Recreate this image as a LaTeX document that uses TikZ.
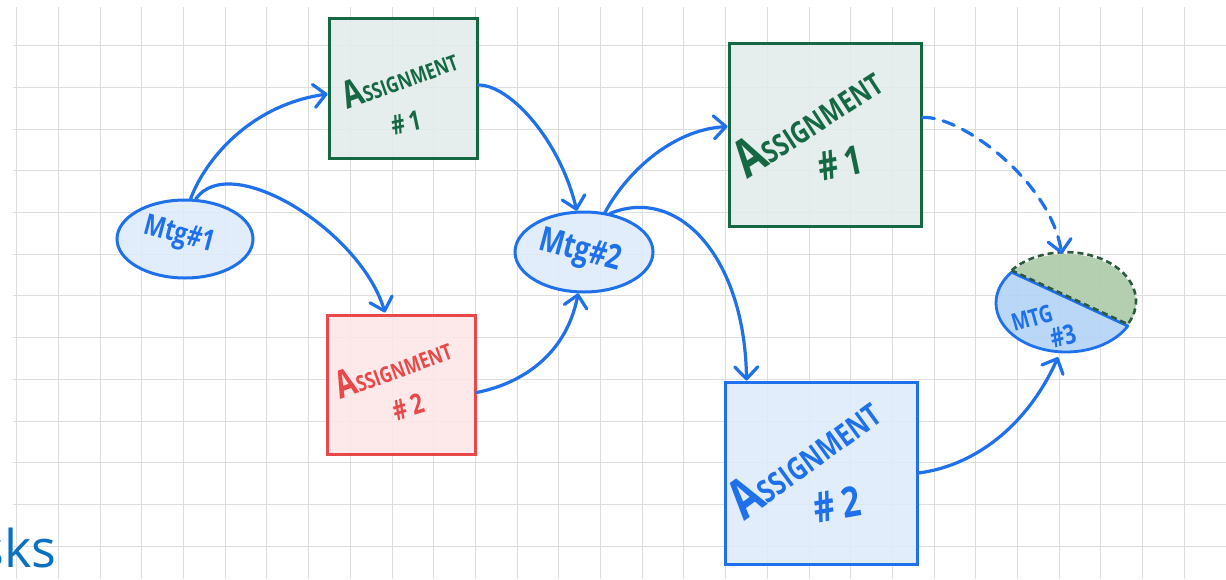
\documentclass[tikz,border=0pt]{standalone}
\usepackage{fontspec}
\usepackage{graphicx}
\usetikzlibrary{arrows.meta,shapes.geometric,calc}
\newfontfamily\hand[FakeStretch=0.78]{Open Sans}
\newfontfamily\uifont{Open Sans}
\definecolor{pen}{HTML}{1E70EB}
\definecolor{penfill}{HTML}{DEEBFC}
\definecolor{grn}{HTML}{166844}
\definecolor{grnfill}{HTML}{E3ECEB}
\definecolor{rd}{HTML}{E84848}
\definecolor{rdfill}{HTML}{FDE7E7}
\definecolor{sage}{HTML}{B0CCAC}
\definecolor{sagedark}{HTML}{2B5A3C}
\definecolor{mtgblue}{HTML}{B4D3F7}
\definecolor{gridc}{HTML}{DEDEDE}
\definecolor{titlec}{HTML}{0A70C2}
\newcommand\asgword[1]{\resizebox{#1}{!}{\hand\bfseries\fontsize{40}{40}\selectfont A\fontsize{23}{23}\selectfont SSIGNMENT}}
\begin{document}
\begin{tikzpicture}[x=1pt,y=-1pt,
  gridline/.style={draw=gridc, line width=1pt},
  box/.style={rectangle, line width=3pt, fill opacity=0.88, inner sep=0},
  mtg/.style={ellipse, draw=pen, fill=penfill, line width=3pt, fill opacity=0.88, inner sep=0},
  link/.style={draw=pen, line width=3.2pt, line cap=round, line join=round,
    -{Straight Barb[length=12pt,width=23pt,round]}},
  handtxt/.style={inner sep=0, font=\hand\bfseries},
]
\useasboundingbox (0,0) rectangle (1226,579);
\fill[white] (0,0) rectangle (1226,579);
% grid
\foreach \i in {0,...,29} \draw[gridline] ({16.7+41.7*\i},7) -- ({16.7+41.7*\i},579);
\foreach \j in {0,...,12} \draw[gridline] (13,{45.7+41.7*\j}) -- (1226,{45.7+41.7*\j});

% nodes
\node[mtg, minimum width=136pt, minimum height=78pt] (m1) at (185,239) {};
\node[box, draw=grn, fill=grnfill, minimum width=148pt, minimum height=140pt] (a1) at (403,88) {};
\node[box, draw=rd, fill=rdfill, minimum width=148pt, minimum height=139pt] (a2) at (401,384.5) {};
\node[mtg, minimum width=138pt, minimum height=80pt] (m2) at (584,252) {};
\node[box, draw=grn, fill=grnfill, minimum width=192pt, minimum height=183pt] (b1) at (825,134.5) {};
\node[box, draw=pen, fill=penfill, minimum width=192pt, minimum height=182pt] (b2) at (821,473) {};
\node[ellipse, minimum width=140pt, minimum height=98pt, inner sep=0] (m3) at (1066,303) {};

% meeting 3 split shape
\begin{scope}[shift={(m3.center)}, y=1pt]
  \fill[mtgblue, fill opacity=0.9] (141:70 and 49) arc[start angle=141, end angle=332, x radius=70, y radius=49] -- cycle;
  \fill[sage, fill opacity=0.95] (141:70 and 49) arc[start angle=141, end angle=-28, x radius=70, y radius=49] -- cycle;
  \draw[pen, line width=2.8pt, line join=round] (141:70 and 49) arc[start angle=141, end angle=332, x radius=70, y radius=49] -- cycle;
  \draw[sagedark, line width=2.6pt, dash pattern=on 6pt off 4pt] ([yshift=1.8pt]141:70 and 49) arc[start angle=141, end angle=-28, x radius=70, y radius=49] -- cycle;
\end{scope}

% texts
\node[handtxt, text=pen, rotate=-15] (t1) at (179,236) {\resizebox{72pt}{!}{Mtg\#1}};
\node[handtxt, text=pen, rotate=-15] (t2) at (580,252) {\resizebox{84pt}{!}{Mtg\#2}};
\node[handtxt, text=pen, rotate=16, font=\hand\bfseries\fontsize{24}{24}\selectfont] (t3a) at (1032,318) {MTG};
\node[handtxt, text=pen, rotate=16, font=\hand\bfseries\fontsize{27}{27}\selectfont] (t3b) at (1063,336) {\#3};

\node[handtxt, text=grn, rotate=20, anchor=base west] (ta1) at (347,110) {\asgword{120pt}};
\node[handtxt, text=grn, rotate=12, font=\hand\bfseries\fontsize{27}{27}\selectfont] (na1) at (406,123) {\#\,1};
\node[handtxt, text=rd, rotate=20, anchor=base west] (ta2) at (340,400) {\asgword{121pt}};
\node[handtxt, text=rd, rotate=18, font=\hand\bfseries\fontsize{28}{28}\selectfont] (na2) at (408,407) {\#\,2};
\node[handtxt, text=grn, rotate=33, anchor=base west] (tb1) at (747,180) {\asgword{165pt}};
\node[handtxt, text=grn, rotate=12, font=\hand\bfseries\fontsize{40}{40}\selectfont] (nb1) at (840,163) {\#\,1};
\node[handtxt, text=pen, rotate=36, anchor=base west] (tb2) at (744,522) {\asgword{173pt}};
\node[handtxt, text=pen, rotate=10, font=\hand\bfseries\fontsize{42}{42}\selectfont] (nb2) at (837,504) {\#\,2};

\node[anchor=base east, inner sep=0, text=titlec, font=\uifont\fontsize{52}{52}\selectfont] (title) at (57,567) {sks};

% connectors
\draw[link] (m1.82) .. controls (205,160) and (250,105) .. ($(a1.west)+(0,6)$);
\draw[link] (m1.75) .. controls (230,150) and (360,230) .. ($(a2.north)+(-16,-1)$);
\draw[link] ($(a1.east)+(0,-3)$) .. controls (510,85) and (560,140) .. (m2.100);
\draw[link] ($(a2.east)+(0,8)$) .. controls (515,385) and (565,360) .. (m2.262);
\draw[link] (m2.62) .. controls (625,175) and (670,130) .. ($(b1.west)+(0,-8)$);
\draw[link] (m2.56) .. controls (680,185) and (745,260) .. ($(b2.north west)+(23,0)$);
\draw[link, dash pattern=on 12pt off 9pt] ($(b1.east)+(0,-17)$) .. controls (960,115) and (1050,180) .. (m3.95);
\draw[link] (b2.east) .. controls (980,465) and (1030,420) .. ($(m3.south)+(-8,5)$);
\end{tikzpicture}
\end{document}
